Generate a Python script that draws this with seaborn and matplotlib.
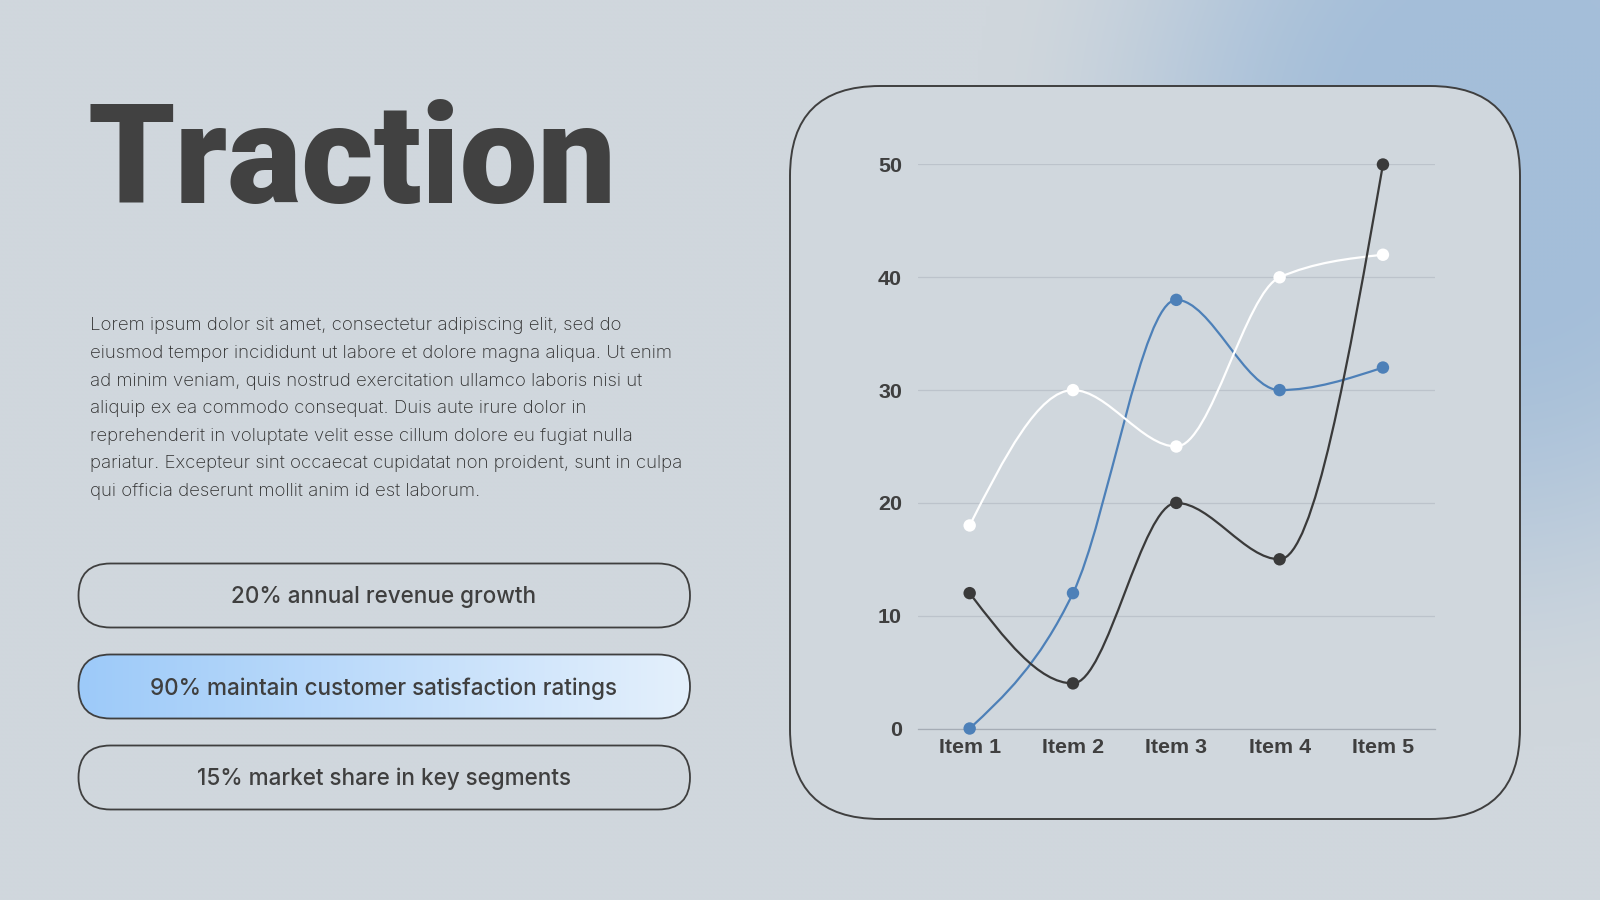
import numpy as np
import matplotlib.pyplot as plt
import seaborn as sns
from matplotlib.patches import FancyBboxPatch, PathPatch
from matplotlib.path import Path
from matplotlib.colors import to_rgb

# chart data
items = ["Item 1", "Item 2", "Item 3", "Item 4", "Item 5"]
dark_values = [12, 4, 20, 15, 50]
blue_values = [0, 12, 38, 30, 32]
white_values = [18, 30, 25, 40, 42]
y_ticks = [0, 10, 20, 30, 40, 50]

# slide text
title = "Traction"
body_lines = [
    "Lorem ipsum dolor sit amet, consectetur adipiscing elit, sed do",
    "eiusmod tempor incididunt ut labore et dolore magna aliqua. Ut enim",
    "ad minim veniam, quis nostrud exercitation ullamco laboris nisi ut",
    "aliquip ex ea commodo consequat. Duis aute irure dolor in",
    "reprehenderit in voluptate velit esse cillum dolore eu fugiat nulla",
    "pariatur. Excepteur sint occaecat cupidatat non proident, sunt in culpa",
    "qui officia deserunt mollit anim id est laborum.",
]
pill_labels = [
    "20% annual revenue growth",
    "90% maintain customer satisfaction ratings",
    "15% market share in key segments",
]

BG = "#D0D7DD"
GLOW = "#A4BED9"
INK = "#3F3F3F"
DARK = "#3A3A3A"
BLUE = "#4D80B8"
WHITE = "#FFFFFF"
GRID = "#BCC3CB"

W, H = 1600, 900
PT = 72 / 100  # points per pixel


def monotone_path(xs, ys):
    # monotone cubic (d3 curveMonotoneX style) as bezier segments
    xs = np.asarray(xs, float)
    ys = np.asarray(ys, float)
    n = len(xs)
    h = np.diff(xs)
    s = np.diff(ys) / h
    t = np.zeros(n)
    for i in range(1, n - 1):
        p = (s[i - 1] * h[i] + s[i] * h[i - 1]) / (h[i - 1] + h[i])
        t[i] = (np.sign(s[i - 1]) + np.sign(s[i])) * min(abs(s[i - 1]), abs(s[i]), 0.5 * abs(p))
    t[0] = (3 * s[0] - t[1]) / 2
    t[-1] = (3 * s[-1] - t[-2]) / 2
    verts = [(xs[0], ys[0])]
    codes = [Path.MOVETO]
    for i in range(n - 1):
        dx = h[i] / 3
        verts += [(xs[i] + dx, ys[i] + dx * t[i]),
                  (xs[i + 1] - dx, ys[i + 1] - dx * t[i + 1]),
                  (xs[i + 1], ys[i + 1])]
        codes += [Path.CURVE4] * 3
    return Path(verts, codes)


sns.set_theme(style="white")
plt.rcParams["font.family"] = ["Inter", "DejaVu Sans"]

fig = plt.figure(figsize=(16, 9), dpi=100)
fig.patch.set_facecolor(BG)

# background layer in pixel units
bg = fig.add_axes([0, 0, 1, 1])
bg.axis("off")

gx, gy = np.meshgrid(np.linspace(0, W, 400), np.linspace(0, H, 225))
dist = np.sqrt(((gx - 1500) / 500) ** 2 + ((gy - 150) / 570) ** 2)
u = np.clip((dist - 0.25) / 0.8, 0, 1)
wgt = (1 - u * u * (3 - 2 * u))[..., None]
glow = np.array(to_rgb(BG)) * (1 - wgt) + np.array(to_rgb(GLOW)) * wgt
bg.imshow(glow, extent=(0, W, H, 0), aspect="auto", interpolation="bilinear", zorder=0)

# chart panel
panel = FancyBboxPatch((790, 86), 730, 733, boxstyle="round,pad=0,rounding_size=90",
                       fc=BG, ec=INK, lw=1.4, zorder=1)
bg.add_patch(panel)

# title and body
bg.text(87, 203, title, fontsize=139 * PT, fontweight="black", color="#414141",
        family=["Roboto", "DejaVu Sans"], va="baseline", ha="left", zorder=3)
for i, line in enumerate(body_lines):
    bg.text(90, 330.5 + 27.55 * i, line, fontsize=18.7 * PT, fontweight="light",
            color="#2E2E2E", va="baseline", ha="left", zorder=3)

# pills
grad_left = np.array(to_rgb("#9DCAF9"))
grad_right = np.array(to_rgb("#E4F0FC"))
ramp = np.linspace(0, 1, 256)[None, :, None]
grad = grad_left * (1 - ramp) + grad_right * ramp
for i, label in enumerate(pill_labels):
    top = 563.5 + 91 * i
    pill = FancyBboxPatch((78.5, top), 611.5, 64, boxstyle="round,pad=0,rounding_size=32",
                          fc="none", ec=INK, lw=1.3, zorder=3)
    bg.add_patch(pill)
    if i == 1:
        im = bg.imshow(grad, extent=(78.5, 690, top + 64, top), aspect="auto", zorder=2)
        im.set_clip_path(pill)
    bg.text(384, top + 40, label, fontsize=22.5 * PT, fontweight="medium", color=INK,
            ha="center", va="baseline", zorder=4)

bg.set_xlim(0, W)
bg.set_ylim(H, 0)

# line chart
ax = fig.add_axes([918 / W, 1 - 728.5 / H, 516.6 / W, 564 / H])
ax.patch.set_alpha(0)
xpos = np.arange(len(items))
for vals, color, z in [(blue_values, BLUE, 3), (white_values, WHITE, 4), (dark_values, DARK, 5)]:
    ax.add_patch(PathPatch(monotone_path(xpos, vals), fc="none", ec=color, lw=1.6,
                           zorder=z, clip_on=False))
    sns.scatterplot(x=xpos, y=vals, color=color, s=80, edgecolor="none", zorder=z + 0.5,
                    clip_on=False, legend=False, ax=ax)

ax.set_xlim(-0.5, len(items) - 0.5)
ax.set_ylim(0, 50)
ax.set_yticks(y_ticks)
ax.set_xticks(xpos, items)
ax.yaxis.grid(True, color=GRID, lw=0.9)
ax.xaxis.grid(False)
ax.set_axisbelow(True)
for side in ["top", "right", "left"]:
    ax.spines[side].set_visible(False)
ax.spines["bottom"].set_color("#A5ACB5")
ax.spines["bottom"].set_linewidth(0.9)
ax.tick_params(axis="y", length=0, pad=11.5)
ax.tick_params(axis="x", length=0, pad=7)
for lab in ax.get_xticklabels() + ax.get_yticklabels():
    lab.set_fontfamily(["Liberation Sans", "DejaVu Sans"])
    lab.set_fontweight("bold")
    lab.set_fontsize(21.5 * PT)
    lab.set_color(INK)
ax.set_xlabel("")
ax.set_ylabel("")

fig.savefig("out.png", dpi=100, facecolor=BG)
